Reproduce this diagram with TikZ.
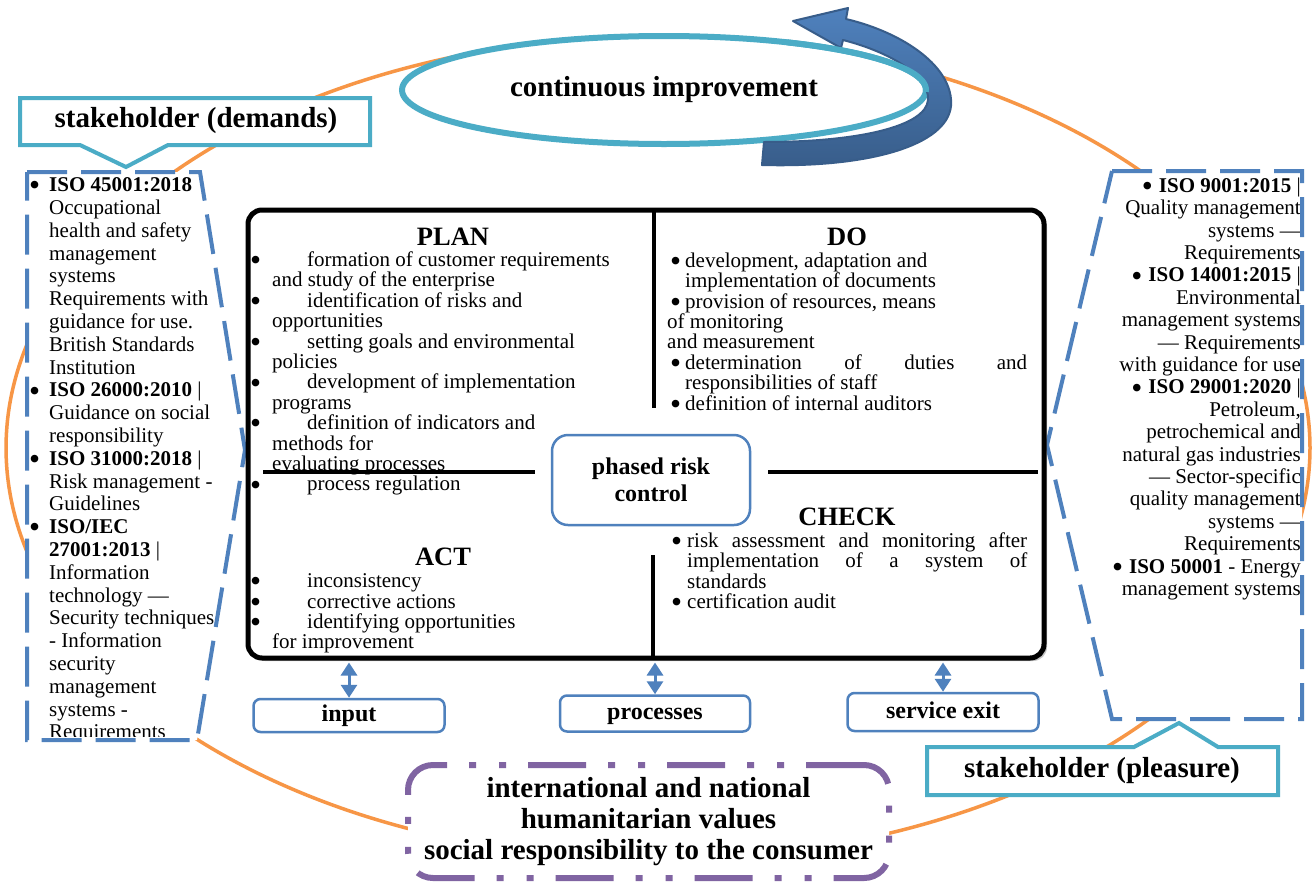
\documentclass[tikz,border=0pt]{standalone}
\usepackage{fontspec}
\usepackage{graphicx}
\setmainfont{Liberation Serif}
\usetikzlibrary{shapes.geometric,shadows,arrows.meta}
\definecolor{teal1}{HTML}{4BACC6}
\definecolor{blue1}{HTML}{4F81BD}
\definecolor{dblue}{HTML}{385D8A}
\definecolor{orng}{HTML}{F79646}
\definecolor{purp}{HTML}{8064A2}
\tikzset{
 lbody/.style={font=\fontsize{21}{22.8}\selectfont, inner sep=0pt, align=left},
 rbody/.style={font=\fontsize{21}{22.4}\selectfont, inner sep=0pt, align=right},
 pbody/.style={font=\fontsize{21}{20.4}\selectfont, inner sep=0pt, align=left},
 ttl/.style={font=\fontsize{26.5}{30}\selectfont\bfseries, inner sep=0pt},
 callout/.style={draw=teal1, line width=4pt, fill=white, line join=miter},
 callouttxt/.style={font=\fontsize{29}{32}\selectfont\bfseries, inner sep=0pt},
 panelline/.style={draw=blue1, line width=4pt, dash pattern=on 40pt off 14pt},
 iobox/.style={draw=blue1, line width=2.5pt, rounded corners=7pt, fill=white, font=\fontsize{24}{26}\selectfont\bfseries, inner sep=0pt, text height=16pt, text depth=4pt},
 dbl/.style={blue1, line width=3pt, {Triangle[width=16pt,length=13pt]}-{Triangle[width=16pt,length=13pt]}},
 divline/.style={line width=4pt, black},
}
\newcommand{\bul}{\raisebox{-4.2pt}[0pt][0pt]{\scalebox{1.5}{\textbullet}}}
\newcommand{\lb}{\llap{\bul\hspace{9pt}}}
\newcommand{\pb}{\llap{\bul\hspace{11pt}}\hspace*{35pt}}
\newcommand{\db}{\llap{\bul\hspace{4pt}}}
\begin{document}
\begin{tikzpicture}[x=1pt,y=-1pt]
\useasboundingbox[fill=white] (0,0) rectangle (1313,881);

% orange cycle
\draw[orng, line width=3.5pt] plot[domain=-108:-426, samples=300, smooth] ({658+652*cos(\x)},{448+412*sin(\x)});

% left panel
\path[fill=white] (27,172) -- (200,172) -- (245,450) -- (197,740) -- (27,740) -- cycle;
\begin{scope}
\clip (0,0) rectangle (300,736);
\node[lbody, anchor=north west] (ltxt) at (49,177.5) {%
\lb\textbf{ISO 45001:2018}\\
Occupational\\
health and safety\\
management\\
systems\\
Requirements with\\
guidance for use.\\
British Standards\\
Institution\\
\lb\textbf{ISO 26000:2010} |\\
Guidance on social\\
responsibility\\
\lb\textbf{ISO 31000:2018} |\\
Risk management -\\
Guidelines\\
\lb\textbf{ISO/IEC}\\
\textbf{27001:2013} |\\
Information\\
technology —\\
Security techniques\\
- Information\\
security\\
management\\
systems -\\
Requirements};
\end{scope}
\draw[panelline] (27,172) -- (200,172) -- (245,450) -- (197,740) -- (27,740) -- cycle;

% right panel
\path[fill=white] (1112,171) -- (1302,171) -- (1302,719) -- (1112,719) -- (1047,445) -- cycle;
\node[rbody, anchor=north east] (rtxt) at (1301,177.5) {%
\bul\hspace{6pt}\textbf{ISO 9001:2015} |\\
Quality management\\
systems —\\
Requirements\\
\bul\hspace{6pt}\textbf{ISO 14001:2015} |\\
Environmental\\
management systems\\
— Requirements\\
with guidance for use\\
\bul\hspace{6pt}\textbf{ISO 29001:2020} |\\
Petroleum,\\
petrochemical and\\
natural gas industries\\
— Sector-specific\\
quality management\\
systems —\\
Requirements\\
\bul\hspace{6pt}\textbf{ISO 50001} - Energy\\
management systems};
\draw[panelline] (1112,171) -- (1302,171) -- (1302,719) -- (1112,719) -- (1047,445) -- cycle;

% callouts
\path[callout] (20,98) -- (370,98) -- (370,145) -- (168,145) -- (126,167) -- (80,145) -- (20,145) -- cycle;
\node[callouttxt] (demands) at (196,121) {stakeholder (demands)};
\path[callout] (927,747) -- (1134,747) -- (1179,723) -- (1218,747) -- (1278,747) -- (1278,795) -- (927,795) -- cycle;
\node[callouttxt] (pleasure) at (1102,771) {stakeholder (pleasure)};

% continuous improvement
\node[ellipse, draw=teal1, line width=6pt, fill=white, minimum width=524pt, minimum height=108pt, inner sep=0pt, font=\fontsize{29}{32}\selectfont\bfseries] (ci) at (664,90) {continuous improvement};
\path[shade, top color=blue1, bottom color=dblue, draw=dblue, line width=2pt, line join=round]
 (793,21) -- (848,8) -- (846,19)
 .. controls (905,33) and (954,68) .. (951,106)
 .. controls (947,145) and (870,168) .. (762,165)
 -- (764,142)
 .. controls (860,142) and (926,126) .. (928,100)
 .. controls (930,76) and (890,52) .. (843,40)
 -- (841,48) -- cycle;
\draw[teal1, line width=6pt] plot[domain=-62:2, samples=60, smooth] ({664+262*cos(\x)},{90+54*sin(\x)});

% main PDCA box
\node[draw, line width=5pt, rounded corners=14pt, fill=white, minimum width=796pt, minimum height=448pt, drop shadow={shadow xshift=3pt, shadow yshift=-3pt, opacity=0.45}] (main) at (646,434) {};
\draw[divline] (654,212) -- (654,408);
\draw[divline] (263,472) -- (535,472);
\draw[divline] (768,472) -- (1038,472);
\draw[divline] (653,555) -- (653,658);

\node[ttl] (plan) at (453,237) {PLAN};
\node[ttl] (do) at (847,237) {DO};
\node[ttl] (check) at (847,517) {CHECK};
\node[ttl] (act) at (443,557) {ACT};

\node[pbody, anchor=north west] (plantxt) at (272,251.5) {%
\pb formation of customer requirements\\
and study of the enterprise\\
\pb identification of risks and\\
opportunities\\
\pb setting goals and environmental\\
policies\\
\pb development of implementation\\
programs\\
\pb definition of indicators and\\
methods for\\
evaluating processes\\
\pb process regulation};

\node[pbody, anchor=north west] (dotxt) at (685,252.5) {%
\db development, adaptation and\\
implementation of documents\\
\db provision of resources, means\\
\hspace*{-18pt}of monitoring\\
\hspace*{-18pt}and measurement\\
\db\makebox[342pt][s]{determination of duties and}\\
responsibilities of staff\\
\db definition of internal auditors};

\node[pbody, anchor=north west] (checktxt) at (687,532.5) {%
\llap{\bul\hspace{5pt}}\makebox[340pt][s]{risk assessment and monitoring after}\\
\makebox[340pt][s]{implementation of a system of}\\
standards\\
\llap{\bul\hspace{5pt}}certification audit};

\node[pbody, anchor=north west] (acttxt) at (272,573.5) {%
\pb inconsistency\\
\pb corrective actions\\
\pb identifying opportunities\\
for improvement};

\node[draw=blue1, line width=2.5pt, rounded corners=16pt, fill=white, minimum width=198pt, minimum height=90pt, align=center, font=\fontsize{24}{27}\selectfont\bfseries] (prc) at (651,480) {phased risk\\control};

% inputs / outputs
\node[iobox, minimum width=191pt, minimum height=33pt] (input) at (349,715.5) {input};
\node[iobox, minimum width=190pt, minimum height=36pt] (proc) at (655,713.5) {processes};
\node[iobox, minimum width=191pt, minimum height=38pt] (exit) at (943,712) {service exit};
\draw[dbl, shorten <=2pt] (main.south -| input.north) -- (input.north);
\draw[dbl, shorten <=2pt] (main.south -| proc.north) -- (proc.north);
\draw[dbl, shorten <=2pt] (main.south -| exit.north) -- (exit.north);

% values
\node[draw=purp, line width=6pt, dash pattern=on 58pt off 22pt on 7pt off 23pt on 7pt off 22pt, rounded corners=25pt, fill=white, minimum width=481pt, minimum height=113pt, align=center, font=\fontsize{29}{31}\selectfont\bfseries] (values) at (648.5,821.5) {international and national\\humanitarian values\\social responsibility to the consumer};
\end{tikzpicture}
\end{document}
